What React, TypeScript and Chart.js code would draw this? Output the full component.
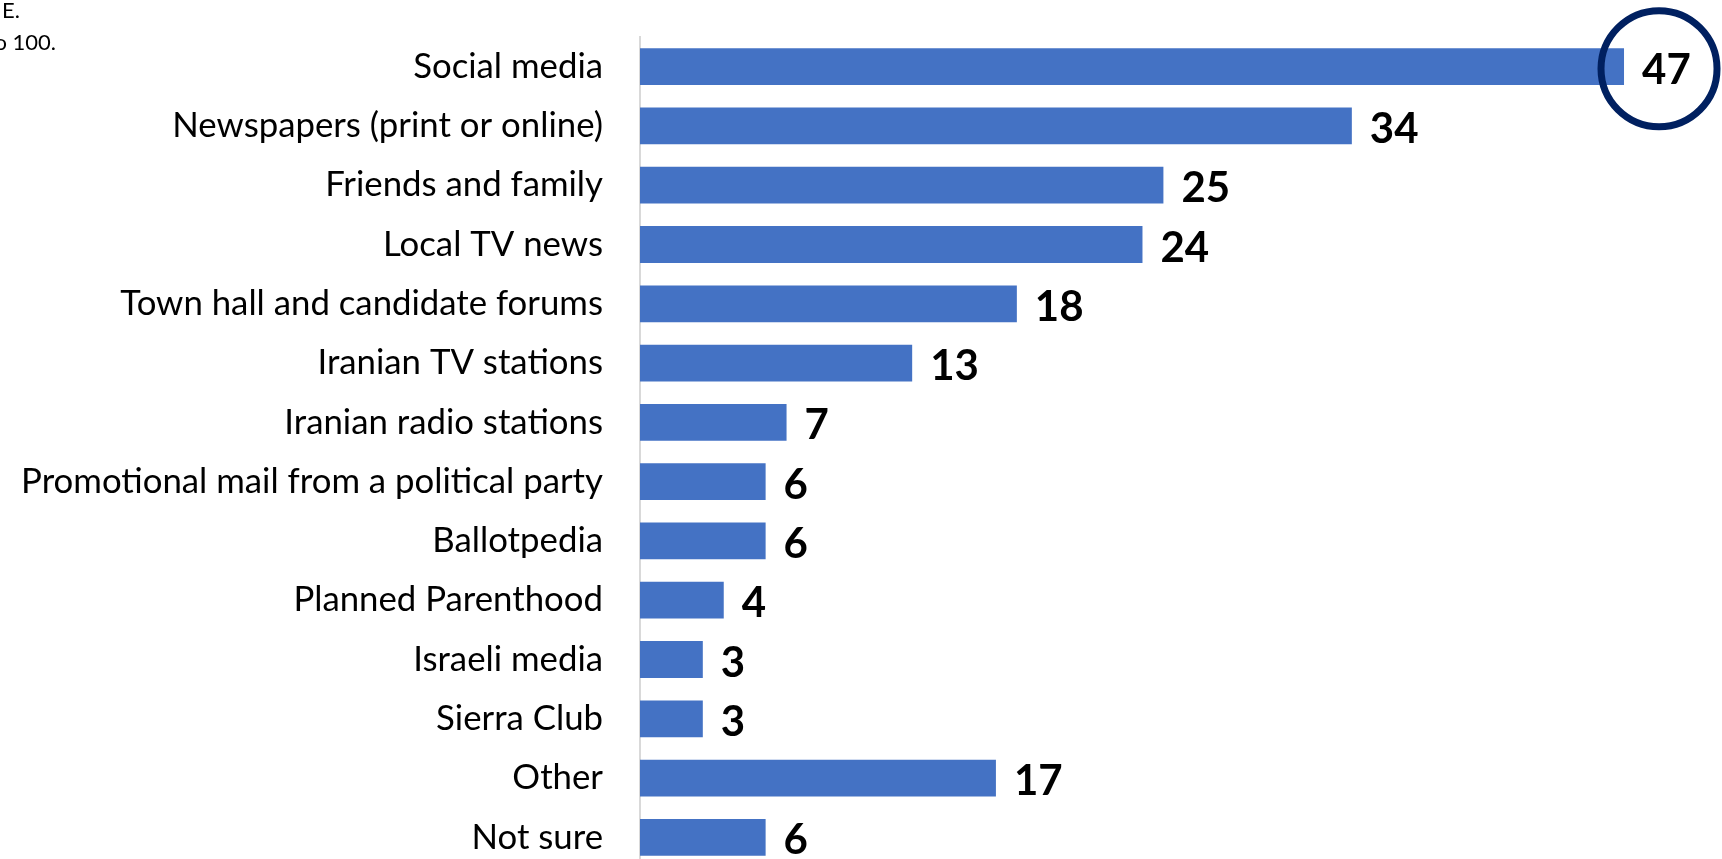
import React, { useEffect, useRef } from "react";
import { Chart, registerables } from "chart.js";

Chart.register(...registerables);

const categories: string[] = [
  "Social media",
  "Newspapers (print or online)",
  "Friends and family",
  "Local TV news",
  "Town hall and candidate forums",
  "Iranian TV stations",
  "Iranian radio stations",
  "Promotional mail from a political party",
  "Ballotpedia",
  "Planned Parenthood",
  "Israeli media",
  "Sierra Club",
  "Other",
  "Not sure",
];

const values: number[] = [47, 34, 25, 24, 18, 13, 7, 6, 6, 4, 3, 3, 17, 6];

const highlightIndex = 0;

const noteLines: string[] = [
  "Question wording: see Appendix E.",
  "Multiple responses allowed; percentages may not sum to 100.",
];

const FAMILY = "Lato, 'Open Sans', sans-serif";
const W = 1722;
const H = 880;

export default function App() {
  const ref = useRef<HTMLCanvasElement | null>(null);

  useEffect(() => {
    document.body.style.margin = "0";
    document.body.style.overflow = "hidden";
    const canvas = ref.current;
    if (!canvas) return;

    const m = document.createElement("canvas").getContext("2d")!;
    m.font = `100px ${FAMILY}`;
    const longest = categories.reduce((a, b) => (m.measureText(b).width > m.measureText(a).width ? b : a));
    const labelSize = (100 * 582) / m.measureText(longest).width;

    const valueFont = `bold 42px ${FAMILY}`;

    const overlay = {
      id: "overlay",
      afterDatasetsDraw(chart: any) {
        const ctx = chart.ctx as CanvasRenderingContext2D;
        const meta = chart.getDatasetMeta(0);
        ctx.save();
        ctx.font = valueFont;
        ctx.fillStyle = "#000";
        ctx.textAlign = "left";
        ctx.textBaseline = "alphabetic";
        meta.data.forEach((bar: any, i: number) => {
          const txt = String(values[i]);
          const mt = ctx.measureText(txt);
          const asc = mt.actualBoundingBoxAscent;
          ctx.fillText(txt, bar.x + 18, bar.y + 1.5 + asc / 2);
        });
        const hb: any = meta.data[highlightIndex];
        if (hb) {
          ctx.beginPath();
          ctx.strokeStyle = "#002060";
          ctx.lineWidth = 7;
          ctx.arc(hb.x + 35, hb.y + 2, 58, 0, Math.PI * 2);
          ctx.stroke();
        }
        ctx.font = `22px ${FAMILY}`;
        ctx.textAlign = "right";
        ctx.fillStyle = "#000";
        ctx.fillText(noteLines[0], 20, 18);
        ctx.fillText(noteLines[1], 56, 50);
        ctx.restore();
      },
    };

    const chart = new Chart(canvas, {
      type: "bar",
      data: {
        labels: categories,
        datasets: [
          {
            data: values,
            backgroundColor: "#4472C4",
            borderWidth: 0,
            barPercentage: 0.62,
            categoryPercentage: 1.0,
          },
        ],
      },
      options: {
        indexAxis: "y",
        responsive: false,
        animation: false,
        devicePixelRatio: 1,
        layout: { padding: { top: 37, right: 0, bottom: 13, left: 0 } },
        plugins: {
          legend: { display: false },
          tooltip: { enabled: false },
        },
        scales: {
          x: { display: false, min: 0, max: 51.68 },
          y: {
            afterFit(scale: any) {
              scale.width = 640;
              scale.paddingTop = 0;
              scale.paddingBottom = 0;
            },
            grid: { display: false, drawTicks: false },
            border: { display: true, color: "#d9d9d9", width: 2 },
            ticks: {
              padding: 37,
              color: "#000",
              font: { family: FAMILY, size: labelSize },
            },
          },
        },
      },
      plugins: [overlay],
    });

    return () => chart.destroy();
  }, []);

  return (
    <div style={{ width: W, height: 859, overflow: "hidden", position: "relative" }}>
      <canvas ref={ref} width={W} height={H} style={{ display: "block", width: W, height: H }} />
    </div>
  );
}
